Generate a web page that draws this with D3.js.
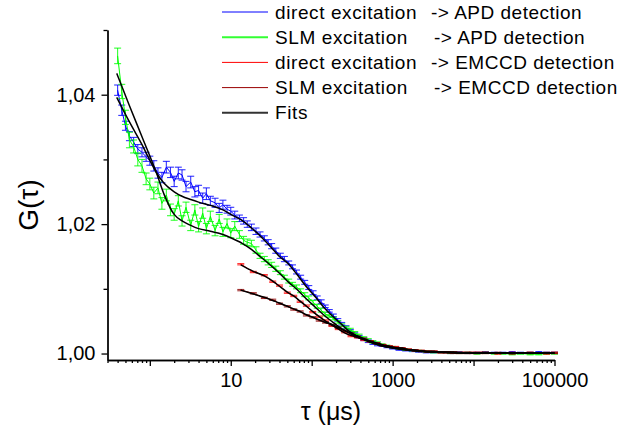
<!DOCTYPE html>
<html>
<head>
<meta charset="utf-8">
<title>G(tau)</title>
<style>
body { margin: 0; background: #fff; }
svg text { font-family: Arial, "Liberation Sans", sans-serif; fill: #000; }
.axis path, .axis line { stroke: #000; stroke-width: 1.3; }
</style>
</head>
<body>
<svg id="chart" width="624" height="430"></svg>
<script src="https://cdn.jsdelivr.net/npm/d3@7/dist/d3.min.js"></script>
<script>
// lag times of the APD curves (µs)
var tauApd = [0.40, 0.45, 0.50, 0.56, 0.63, 0.71, 0.80, 0.90, 1.0, 1.12,
  1.26, 1.41, 1.6, 1.8, 2.0, 2.25, 2.5, 2.8, 3.2, 3.6,
  4.0, 4.5, 5.0, 5.6, 6.4, 7.2, 8.0, 9.0, 10, 11.2,
  12.8, 14.4, 16, 18, 20.5, 23, 26, 29, 32, 36,
  41, 46, 52, 58, 65, 73, 82, 92, 104, 117,
  131, 147, 165, 185, 210, 235, 265, 300, 340, 385,
  440, 500, 570, 650, 740, 850, 1000, 1200, 1450, 1750,
  2100, 2600, 3200, 4000, 5200, 6600, 8500, 11000, 14000, 18000,
  23000, 30000, 38000, 50000, 64000, 80000, 100000];

// direct excitation -> APD
var gDirectApd = [1.0407, 1.0376, 1.0352, 1.0336, 1.0327, 1.0316, 1.0311, 1.0304, 1.0298, 1.0290,
  1.0279, 1.0272, 1.0288, 1.0280, 1.0266, 1.0279, 1.0276, 1.0258, 1.0265, 1.0250,
  1.0252, 1.0240, 1.0247, 1.0236, 1.0233, 1.0225, 1.0230, 1.0223, 1.0220, 1.0214,
  1.0209, 1.0205, 1.0200, 1.0195, 1.0189, 1.0184, 1.0178, 1.0172, 1.0166, 1.0159,
  1.0151, 1.0146, 1.0140, 1.0134, 1.0126, 1.0118, 1.0110, 1.0102, 1.0094, 1.0086,
  1.0080, 1.0073, 1.0066, 1.0059, 1.0052, 1.0046, 1.0041, 1.0035, 1.0030, 1.0026,
  1.0022, 1.0019, 1.0016, 1.0014, 1.0012, 1.0010, 1.0008, 1.0006, 1.0005, 1.0004,
  1.0003, 1.0002, 1.0002, 1.0002, 1.0001, 1.0002, 1.0001, 1.0001, 1.0002, 1.0001,
  1.0001, 1.0002, 1.0001, 1.0001, 1.0002, 1.0001, 1.0001];
var errDirectApd = [0.0008, 0.0008, 0.0007, 0.0007, 0.0007, 0.0007, 0.0007, 0.0007, 0.0007, 0.0008,
  0.0008, 0.0008, 0.0009, 0.0008, 0.0008, 0.0009, 0.0008, 0.0008, 0.0009, 0.0008,
  0.0008, 0.0008, 0.0009, 0.0007, 0.0007, 0.0007, 0.0007, 0.0006, 0.0006, 0.0006,
  0.0005, 0.0005, 0.0005, 0.0005, 0.0005, 0.0004, 0.0004, 0.0004, 0.0004, 0.0004,
  0.0004, 0.0004, 0.0003, 0.0003, 0.0003, 0.0003, 0.0003, 0.0003, 0.0003, 0.0003,
  0.0003, 0.0002, 0.0002, 0.0002, 0.0002, 0.0002, 0.0002, 0.0002, 0.0002, 0.0002,
  0.0002, 0.0002, 0.0002, 0.0002, 0.0001, 0.0001, 0.0001, 0.0001, 0.0001, 0.0001,
  0.0001, 0.0001, 0.0001, 0.0001, 0.0001, 0.0001, 0.0001, 0.0001, 0.0001, 0.0001,
  0.0001, 0.0001, 0.0001, 0.0001, 0.0001, 0.0001, 0.0001];

// SLM excitation -> APD
var gSlmApd = [1.0460, 1.0405, 1.0365, 1.0330, 1.0320, 1.0300, 1.0290, 1.0270, 1.0262, 1.0248,
  1.0256, 1.0232, 1.0245, 1.0222, 1.0215, 1.0236, 1.0205, 1.0226, 1.0198, 1.0222,
  1.0196, 1.0217, 1.0193, 1.0212, 1.0190, 1.0208, 1.0188, 1.0201, 1.0186, 1.0197,
  1.0184, 1.0175, 1.0172, 1.0170, 1.0160, 1.0151, 1.0146, 1.0141, 1.0137, 1.0131,
  1.0125, 1.0118, 1.0112, 1.0107, 1.0103, 1.0097, 1.0091, 1.0086, 1.0079, 1.0073,
  1.0067, 1.0061, 1.0058, 1.0054, 1.0049, 1.0044, 1.0040, 1.0037, 1.0032, 1.0028,
  1.0024, 1.0021, 1.0018, 1.0016, 1.0014, 1.0012, 1.0010, 1.0008, 1.0006, 1.0005,
  1.0004, 1.0003, 1.0002, 1.0002, 1.0001, 1.0001, 1.0001, 1.0000, 1.0001, 1.0000,
  1.0000, 0.9999, 1.0000, 0.9999, 0.9999, 1.0000, 1.0000];
var errSlmApd = [0.0012, 0.0011, 0.0011, 0.0012, 0.0010, 0.0010, 0.0010, 0.0009, 0.0009, 0.0009,
  0.0009, 0.0009, 0.0009, 0.0009, 0.0009, 0.0008, 0.0008, 0.0008, 0.0008, 0.0008,
  0.0008, 0.0008, 0.0008, 0.0008, 0.0008, 0.0007, 0.0007, 0.0007, 0.0007, 0.0007,
  0.0006, 0.0006, 0.0005, 0.0005, 0.0005, 0.0004, 0.0004, 0.0004, 0.0004, 0.0004,
  0.0003, 0.0003, 0.0003, 0.0003, 0.0003, 0.0003, 0.0003, 0.0003, 0.0003, 0.0003,
  0.0003, 0.0003, 0.0002, 0.0002, 0.0002, 0.0002, 0.0002, 0.0002, 0.0002, 0.0002,
  0.0002, 0.0002, 0.0002, 0.0002, 0.0001, 0.0001, 0.0001, 0.0001, 0.0001, 0.0001,
  0.0001, 0.0001, 0.0001, 0.0001, 0.0001, 0.0001, 0.0001, 0.0001, 0.0001, 0.0001,
  0.0001, 0.0001, 0.0001, 0.0001, 0.0001, 0.0001, 0.0001];

// lag times of the EMCCD curves (µs)
var tauCcd = [13.3, 19, 26, 33, 40, 50, 60, 72, 86, 103,
  124, 148, 178, 213, 255, 306, 367, 440, 528, 633,
  760, 910, 1090, 1310, 1570, 1890, 2260, 2720, 3260, 3910,
  4690, 5630, 6760, 8110, 9730, 11700, 14000, 20000, 30000, 50000,
  80000, 100000];
var gDirectCcd = [1.0138, 1.0126, 1.0121, 1.0111, 1.0105, 1.0094, 1.0089, 1.0080, 1.0074, 1.0064,
  1.0057, 1.0051, 1.0043, 1.0038, 1.0033, 1.0027, 1.0025, 1.0021, 1.0019, 1.0016,
  1.0013, 1.0011, 1.0010, 1.0008, 1.0006, 1.0005, 1.0004, 1.0003, 1.0003, 1.0002,
  1.0002, 1.0001, 1.0001, 1.0001, 1.0001, 1.0001, 1.0001, 1.0000, 1.0001, 1.0001,
  1.0000, 1.0001];
var gSlmCcd = [1.0098, 1.0093, 1.0086, 1.0083, 1.0077, 1.0073, 1.0068, 1.0065, 1.0059, 1.0056,
  1.0051, 1.0048, 1.0044, 1.0040, 1.0035, 1.0031, 1.0026, 1.0023, 1.0019, 1.0016,
  1.0013, 1.0011, 1.0009, 1.0008, 1.0006, 1.0005, 1.0004, 1.0003, 1.0003, 1.0002,
  1.0002, 1.0002, 1.0001, 1.0001, 1.0001, 1.0001, 1.0001, 1.0001, 1.0000, 1.0001,
  1.0001, 1.0001];
var errCcd = [0.0001, 0.0001, 0.0001, 0.0001, 0.0001, 0.0001, 0.0001, 0.0001, 0.0001, 0.0001,
  0.0001, 0.0001, 0.0001, 0.0001, 0.0001, 0.0001, 0.0001, 0.0001, 0.0001, 0.0001,
  0.0001, 0.0001, 0.0001, 0.0001, 0.0001, 0.0001, 0.0001, 0.0001, 0.0001, 0.0001,
  0.0001, 0.0001, 0.0001, 0.0001, 0.0001, 0.0001, 0.0001, 0.0001, 0.0001, 0.0001,
  0.0001, 0.0001];

// fit curves
var tauFitApd = [0.39, 0.56, 0.8, 1.2, 1.5, 2, 2.5, 3.2, 4, 5.6,
  8, 10, 14, 18, 23, 30, 40, 52, 66, 85,
  110, 140, 180, 230, 300, 390, 500, 650, 850, 1200,
  1700, 2500, 4000, 8000, 20000, 100000];
var fitDirectApd = [1.0396, 1.0358, 1.0323, 1.0280, 1.0263, 1.0250, 1.0243, 1.0238, 1.0234, 1.0229,
  1.0222, 1.0215, 1.0205, 1.0194, 1.0182, 1.0167, 1.0150, 1.0138, 1.0122, 1.0104,
  1.0088, 1.0072, 1.0058, 1.0046, 1.0033, 1.0025, 1.0019, 1.0014, 1.0010, 1.0007,
  1.0005, 1.0003, 1.0002, 1.0001, 1.0001, 1.0001];
var fitSlmApd = [1.0433, 1.0383, 1.0335, 1.0280, 1.0246, 1.0215, 1.0205, 1.0198, 1.0193, 1.0189,
  1.0184, 1.0179, 1.0170, 1.0161, 1.0150, 1.0138, 1.0124, 1.0110, 1.0099, 1.0085,
  1.0072, 1.0060, 1.0049, 1.0039, 1.0031, 1.0024, 1.0019, 1.0014, 1.0010, 1.0007,
  1.0005, 1.0003, 1.0002, 1.0001, 1.0001, 1.0001];
var fitDirectCcd = [1.0137, 1.0127, 1.0120, 1.0112, 1.0104, 1.0095, 1.0089, 1.0081, 1.0073, 1.0065,
  1.0057, 1.0050, 1.0044, 1.0038, 1.0032, 1.0028, 1.0025, 1.0022, 1.0019, 1.0016,
  1.0013, 1.0011, 1.0009, 1.0008, 1.0006, 1.0005, 1.0004, 1.0003, 1.0003, 1.0002,
  1.0002, 1.0002, 1.0001, 1.0001, 1.0001, 1.0001, 1.0001, 1.0001, 1.0001, 1.0001,
  1.0001, 1.0001];
var fitSlmCcd = [1.0098, 1.0092, 1.0087, 1.0082, 1.0078, 1.0073, 1.0069, 1.0065, 1.0060, 1.0056,
  1.0052, 1.0048, 1.0045, 1.0040, 1.0036, 1.0031, 1.0027, 1.0023, 1.0019, 1.0016,
  1.0013, 1.0011, 1.0009, 1.0008, 1.0006, 1.0005, 1.0004, 1.0003, 1.0003, 1.0002,
  1.0002, 1.0002, 1.0001, 1.0001, 1.0001, 1.0001, 1.0001, 1.0001, 1.0001, 1.0001,
  1.0001, 1.0001];

// axis ticks
var xMajor = [1, 10, 100, 1000, 10000, 100000];
var xLabelled = [10, 1000, 100000];
var yMajor = [1.00, 1.02, 1.04];
var yMinor = [1.01, 1.03, 1.05];

var legendNames = ["direct excitation", "SLM excitation", "direct excitation", "SLM excitation", "Fits"];
var legendTargets = ["-> APD detection", "-> APD detection", "-> EMCCD detection", "-> EMCCD detection", ""];
var legendColors = ["#0000ff", "#33ff33", "#ff0000", "#990000", "#333333"];

var svg = d3.select("#chart");
var x = d3.scaleLog().domain([0.3, 100000]).range([107.5, 554.5]);
var y = d3.scaleLinear().domain([0.999, 1.05]).range([360, 30]);

function zip(t, g, e) {
  return t.map(function(d, i) { return { t: d, g: g[i], e: e ? e[i] : 0 }; });
}

var line = d3.line()
  .x(function(d) { return x(d.t); })
  .y(function(d) { return y(d.g); });
var smooth = d3.line()
  .x(function(d) { return x(d.t); })
  .y(function(d) { return y(d.g); })
  .curve(d3.curveMonotoneX);

// one data series with error bars
function drawSeries(data, color) {
  var g = svg.append("g");
  g.append("path").datum(data)
    .attr("d", line)
    .attr("fill", "none")
    .attr("stroke", color)
    .attr("stroke-width", 1);
  var bars = g.selectAll("g.bar").data(data).enter().append("g")
    .attr("stroke", color)
    .attr("stroke-width", 1.1)
    .attr("stroke-opacity", 0.8);
  bars.append("line")
    .attr("x1", function(d) { return x(d.t); })
    .attr("x2", function(d) { return x(d.t); })
    .attr("y1", function(d) { return y(d.g - d.e); })
    .attr("y2", function(d) { return y(d.g + d.e); });
  [-1, 1].forEach(function(s) {
    bars.append("line")
      .attr("x1", function(d) { return x(d.t) - 3.5; })
      .attr("x2", function(d) { return x(d.t) + 3.5; })
      .attr("y1", function(d) { return y(d.g + s * d.e); })
      .attr("y2", function(d) { return y(d.g + s * d.e); });
  });
}

drawSeries(zip(tauApd, gDirectApd, errDirectApd), "#0000ff");
drawSeries(zip(tauApd, gSlmApd, errSlmApd), "#00ff00");
drawSeries(zip(tauCcd, gDirectCcd, errCcd), "#ff0000");
drawSeries(zip(tauCcd, gSlmCcd, errCcd), "#8b0000");

// fits on top
[zip(tauFitApd, fitDirectApd), zip(tauFitApd, fitSlmApd),
 zip(tauCcd, fitDirectCcd), zip(tauCcd, fitSlmCcd)].forEach(function(f) {
  svg.append("path").datum(f)
    .attr("d", smooth)
    .attr("fill", "none")
    .attr("stroke", "#000")
    .attr("stroke-width", 1.5);
});

// axes
var minorX = x.ticks().filter(function(v) { return xMajor.indexOf(v) < 0; });
svg.append("g").attr("class", "axis").attr("transform", "translate(0,360)")
  .call(d3.axisBottom(x).tickValues(minorX).tickSize(3).tickSizeOuter(0).tickFormat(""));
svg.append("g").attr("class", "axis").attr("transform", "translate(0,360)")
  .call(d3.axisBottom(x).tickValues(xMajor).tickSize(6).tickSizeOuter(0).tickPadding(7)
    .tickFormat(function(v) { return xLabelled.indexOf(v) >= 0 ? String(v) : ""; }))
  .selectAll("text").attr("font-size", 20);

svg.append("g").attr("class", "axis").attr("transform", "translate(107.5,0)")
  .call(d3.axisLeft(y).tickValues(yMinor).tickSize(4).tickSizeOuter(0).tickFormat(""));
svg.append("g").attr("class", "axis").attr("transform", "translate(107.5,0)")
  .call(d3.axisLeft(y).tickValues(yMajor).tickSize(6).tickSizeOuter(0).tickPadding(6)
    .tickFormat(function(v) { return d3.format(".2f")(v).replace(".", ","); }))
  .selectAll("text").attr("font-size", 20);
svg.selectAll(".axis text").attr("font-family", null);

// axis titles
svg.append("text")
  .attr("transform", "translate(38,205) rotate(-90)")
  .attr("text-anchor", "middle")
  .attr("font-size", 28)
  .text("G(τ)");
svg.append("text")
  .attr("x", 331).attr("y", 420)
  .attr("text-anchor", "middle")
  .attr("font-size", 25)
  .text("τ (μs)");

// legend
var leg = svg.append("g").selectAll("g").data(legendNames).enter().append("g")
  .attr("transform", function(d, i) { return "translate(0," + (12 + i * 25.2) + ")"; });
leg.append("line")
  .attr("x1", 222).attr("x2", 268)
  .attr("stroke", function(d, i) { return legendColors[i]; })
  .attr("stroke-width", function(d, i) { return i === 1 || i === 4 ? 2 : 1; });
leg.append("text")
  .attr("x", 275).attr("y", 6.5)
  .attr("font-size", 19)
  .attr("letter-spacing", 0.6)
  .text(function(d) { return d; });
leg.append("text")
  .attr("x", function(d, i) { return i % 2 === 0 ? 431 : 434; }).attr("y", 6.5)
  .attr("font-size", 19)
  .attr("letter-spacing", 0.5)
  .text(function(d, i) { return legendTargets[i]; });
</script>
</body>
</html>
